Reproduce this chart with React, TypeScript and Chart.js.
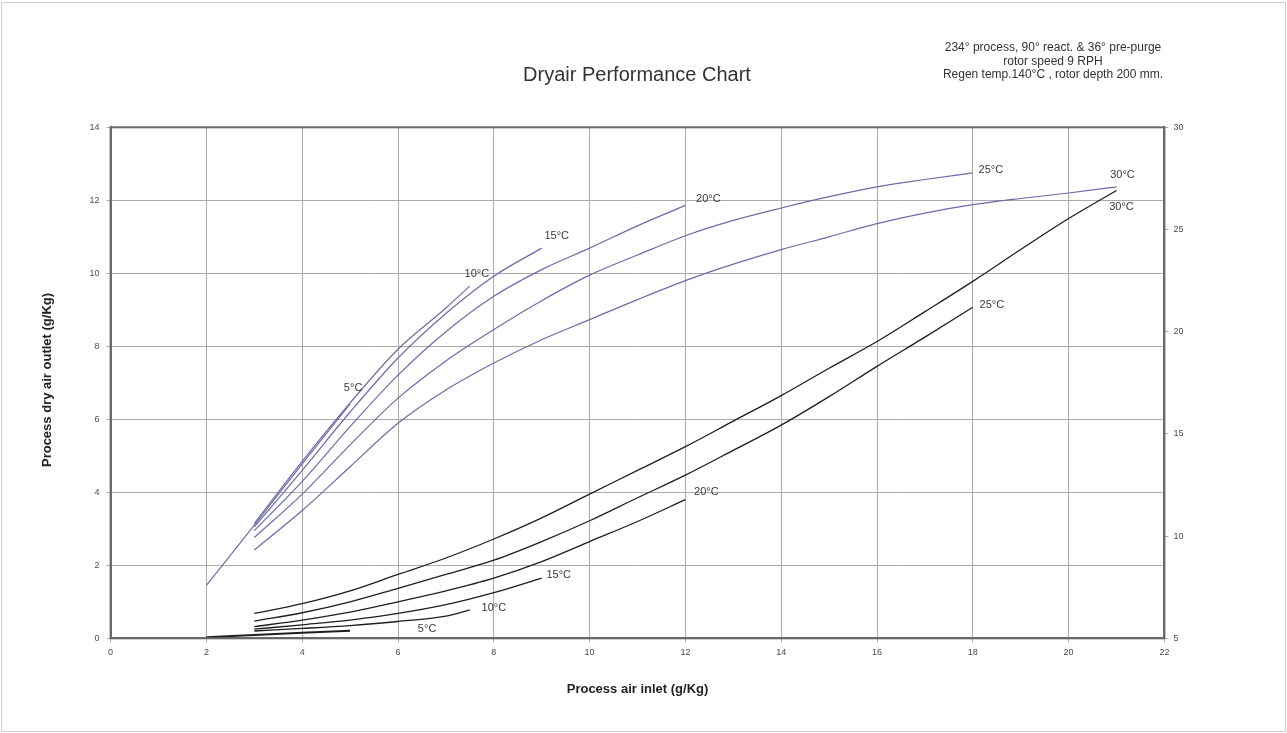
import React, { useEffect, useRef } from "react";
import { Chart, registerables } from "chart.js";

Chart.register(...registerables);

// ---------- texts ----------
const TITLE = "Dryair Performance Chart";
const NOTE_LINES = [
  "234° process, 90° react. & 36° pre-purge",
  "rotor speed 9 RPH",
  "Regen temp.140°C , rotor depth 200 mm.",
];
const X_TITLE = "Process air inlet (g/Kg)";
const Y_TITLE = "Process dry air outlet (g/Kg)";

// ---------- axes ----------
const X_MIN = 0, X_MAX = 22, X_STEP = 2;
const Y_MIN = 0, Y_MAX = 14, Y_STEP = 2;
const Y2_MIN = 5, Y2_MAX = 30, Y2_STEP = 5;

// ---------- upper (blue) family ----------
const blueLabels = ["5°C", "10°C", "15°C", "20°C", "25°C", "30°C"];
const blueIn5 = [2, 3, 4, 5];
const blueOut5 = [1.45, 3.1, 4.78, 6.42];
const blueIn10 = [3, 4, 5, 6, 7, 7.5];
const blueOut10 = [3.15, 4.85, 6.45, 7.92, 9.05, 9.65];
const blueIn15 = [3, 4, 5, 6, 7, 8, 9];
const blueOut15 = [3.05, 4.6, 6.2, 7.68, 8.9, 9.92, 10.69];
const blueIn20 = [3, 4, 5, 6, 7, 8, 9, 10, 11, 12];
const blueOut20 = [2.95, 4.3, 5.8, 7.21, 8.4, 9.37, 10.1, 10.69, 11.3, 11.86];
const blueIn25 = [3, 4, 5, 6, 7, 8, 9, 10, 11, 12, 13, 14, 15, 16, 17, 18];
const blueOut25 = [2.76, 3.95, 5.3, 6.58, 7.6, 8.46, 9.25, 9.95, 10.5, 11.03, 11.45, 11.79, 12.1, 12.37, 12.57, 12.75];
const blueIn30 = [3, 4, 5, 6, 7, 8, 9, 10, 11, 12, 13, 14, 15, 16, 17, 18, 19, 20, 21];
const blueOut30 = [2.42, 3.5, 4.7, 5.89, 6.8, 7.54, 8.18, 8.73, 9.28, 9.8, 10.25, 10.65, 11.0, 11.36, 11.65, 11.88, 12.05, 12.2, 12.37];

// ---------- lower (black) family ----------
const blackLabels = ["5°C", "10°C", "15°C", "20°C", "25°C", "30°C"];
const blackIn5 = [2, 3, 4, 5];
const blackOut5 = [0.03, 0.09, 0.15, 0.21];
const blackIn10 = [3, 4, 5, 6, 7, 7.5];
const blackOut10 = [0.2, 0.27, 0.35, 0.46, 0.61, 0.78];
const blackIn15 = [3, 4, 5, 6, 7, 8, 9];
const blackOut15 = [0.25, 0.37, 0.5, 0.68, 0.92, 1.25, 1.65];
const blackIn20 = [3, 4, 5, 6, 7, 8, 9, 10, 11, 12];
const blackOut20 = [0.32, 0.5, 0.72, 1.0, 1.3, 1.65, 2.1, 2.65, 3.2, 3.8];
const blackIn25 = [3, 4, 5, 6, 7, 8, 9, 10, 11, 12, 13, 14, 15, 16, 17, 18];
const blackOut25 = [0.47, 0.7, 1.0, 1.37, 1.75, 2.14, 2.65, 3.22, 3.85, 4.47, 5.15, 5.84, 6.62, 7.45, 8.25, 9.07];
const blackIn30 = [3, 4, 5, 6, 7, 8, 9, 10, 11, 12, 13, 14, 15, 16, 17, 18, 19, 20, 21];
const blackOut30 = [0.68, 0.95, 1.3, 1.75, 2.2, 2.72, 3.3, 3.95, 4.6, 5.25, 5.95, 6.65, 7.4, 8.13, 8.95, 9.78, 10.65, 11.5, 12.27];

const blueIns = [blueIn5, blueIn10, blueIn15, blueIn20, blueIn25, blueIn30];
const blueOuts = [blueOut5, blueOut10, blueOut15, blueOut20, blueOut25, blueOut30];
const blackIns = [blackIn5, blackIn10, blackIn15, blackIn20, blackIn25, blackIn30];
const blackOuts = [blackOut5, blackOut10, blackOut15, blackOut20, blackOut25, blackOut30];

// ---------- styling ----------
const FONT = "'Liberation Sans', Arial, Helvetica, sans-serif";
const BLUE = "#6b6ba9";
const BLACK = "#1e1e1e";
const TEXT = "#3a3a3a";
const GRID = "#ababab";
const FRAME = "#6a6a6a";
const W = 1287, H = 733;
const AREA = { left: 110.6, right: 1164.4, top: 127.3, bottom: 638.3 };

// label offsets (px) from the end of each curve
const blueLabelOffsets = [[3, -16], [7, -12], [15, -12], [23, -6], [18, -3], [6, -12]];
const blackLabelOffsets = [[77, -2], [24, -2], [17, -3], [21, -8], [19, -2], [5, 17]];

function pts(xs: number[], ys: number[]) {
  return xs.map((x, i) => ({ x, y: ys[i] }));
}

export default function App() {
  const ref = useRef<HTMLCanvasElement | null>(null);

  useEffect(() => {
    document.body.style.margin = "0";
    const canvas = ref.current;
    if (!canvas) return;

    const datasets: any[] = [];
    blueLabels.forEach((lab, i) => {
      datasets.push({
        label: lab,
        data: pts(blueIns[i], blueOuts[i]),
        borderColor: BLUE,
        borderWidth: 1.2,
        pointRadius: 0,
        cubicInterpolationMode: "monotone",
        fill: false,
        yAxisID: "y",
        _off: blueLabelOffsets[i],
      });
    });
    blackLabels.forEach((lab, i) => {
      datasets.push({
        label: lab,
        data: pts(blackIns[i], blackOuts[i]),
        borderColor: BLACK,
        borderWidth: i === 0 ? 2 : 1.3,
        pointRadius: 0,
        cubicInterpolationMode: "monotone",
        fill: false,
        yAxisID: "y",
        _off: blackLabelOffsets[i],
      });
    });

    const decor = {
      id: "decor",
      beforeDraw(chart: any) {
        const ctx = chart.ctx;
        ctx.save();
        ctx.fillStyle = "#ffffff";
        ctx.fillRect(0, 0, W, H);
        ctx.restore();
      },
      afterDatasetsDraw(chart: any) {
        const ctx = chart.ctx;
        const ca = chart.chartArea;
        ctx.save();
        // plot frame
        ctx.strokeStyle = FRAME;
        ctx.lineWidth = 2;
        ctx.strokeRect(ca.left, ca.top, ca.right - ca.left, ca.bottom - ca.top);
        // curve labels
        ctx.fillStyle = TEXT;
        ctx.font = `11px ${FONT}`;
        ctx.textAlign = "center";
        ctx.textBaseline = "middle";
        chart.data.datasets.forEach((ds: any, i: number) => {
          const meta = chart.getDatasetMeta(i);
          const last = meta.data[meta.data.length - 1];
          if (!last) return;
          ctx.fillText(ds.label, last.x + ds._off[0], last.y + ds._off[1]);
        });
        // title
        ctx.fillStyle = "#333333";
        ctx.font = `20px ${FONT}`;
        ctx.fillText(TITLE, 637, 75);
        // note
        ctx.font = `12px ${FONT}`;
        NOTE_LINES.forEach((t, k) => ctx.fillText(t, 1053, 48 + k * 13.5));
        // axis titles
        ctx.font = `bold 13px ${FONT}`;
        ctx.fillStyle = "#222222";
        ctx.fillText(X_TITLE, (ca.left + ca.right) / 2, 689);
        ctx.translate(47, 380);
        ctx.rotate(-Math.PI / 2);
        ctx.fillText(Y_TITLE, 0, 0);
        ctx.restore();
        // page frame
        ctx.save();
        ctx.strokeStyle = "#cfcfcf";
        ctx.lineWidth = 1;
        ctx.strokeRect(1.5, 2.5, W - 3, H - 4);
        ctx.restore();
      },
    };

    const tickFont = { family: FONT, size: 9 };
    const chart = new Chart(canvas, {
      type: "line",
      data: { datasets },
      options: {
        animation: false,
        responsive: false,
        devicePixelRatio: 1,
        layout: { padding: { top: AREA.top, bottom: 0, left: 0, right: 0 } },
        plugins: { legend: { display: false }, tooltip: { enabled: false }, title: { display: false } },
        scales: {
          x: {
            type: "linear",
            min: X_MIN,
            max: X_MAX,
            ticks: { stepSize: X_STEP, color: "#4a4a4a", font: tickFont, padding: 5 },
            grid: { color: GRID, lineWidth: 1, tickLength: 4 },
            border: { display: true, color: FRAME, width: 2 },
            afterFit: (s: any) => { s.height = H - AREA.bottom; },
          },
          y: {
            type: "linear",
            position: "left",
            min: Y_MIN,
            max: Y_MAX,
            ticks: { stepSize: Y_STEP, color: "#4a4a4a", font: tickFont, padding: 7 },
            grid: { color: GRID, lineWidth: 1, tickLength: 4 },
            border: { display: true, color: FRAME, width: 2 },
            afterFit: (s: any) => { s.width = AREA.left; },
          },
          y2: {
            type: "linear",
            position: "right",
            min: Y2_MIN,
            max: Y2_MAX,
            ticks: { stepSize: Y2_STEP, color: "#4a4a4a", font: tickFont, padding: 5 },
            grid: { drawOnChartArea: false, color: GRID, tickLength: 4 },
            border: { display: true, color: FRAME, width: 2 },
            afterFit: (s: any) => { s.width = W - AREA.right; },
          },
        },
      } as any,
      plugins: [decor],
    });
    return () => chart.destroy();
  }, []);

  return (
    <div style={{ width: W, height: H, position: "relative", overflow: "hidden" }}>
      <canvas ref={ref} width={W} height={H} style={{ display: "block", width: W, height: H }} />
    </div>
  );
}
